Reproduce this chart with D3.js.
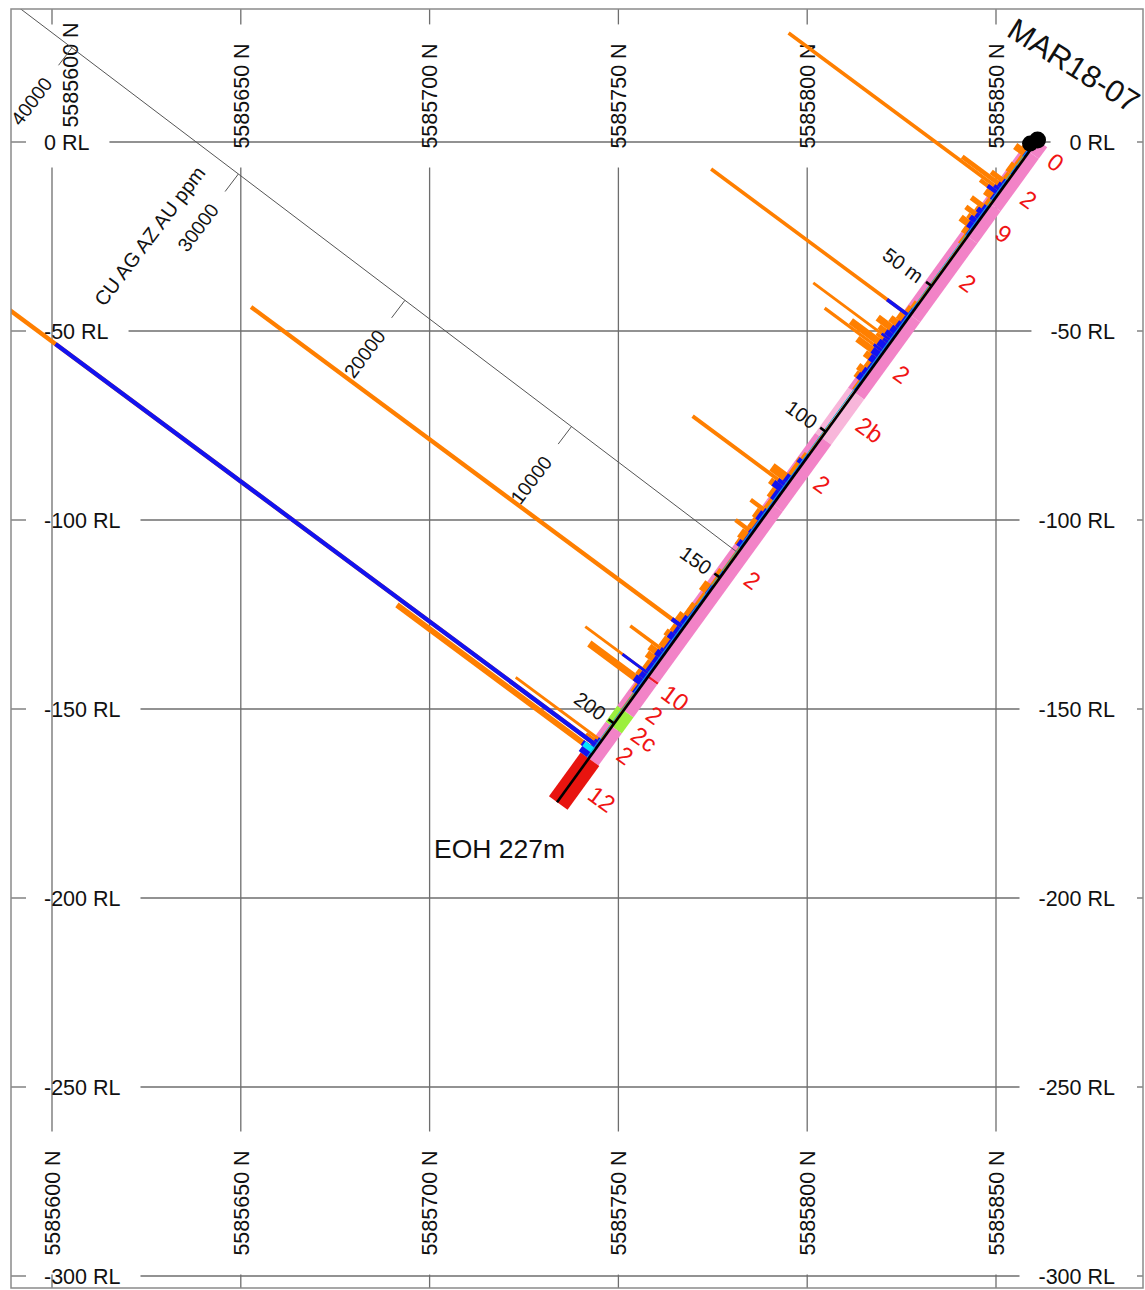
<!DOCTYPE html>
<html><head><meta charset="utf-8">
<script src="https://cdn.jsdelivr.net/npm/d3@7"></script>
<style>
html,body{margin:0;padding:0;background:#fff;}
svg{display:block;font-family:"Liberation Sans",Arial,sans-serif;}
</style></head><body>
<svg id="chart" width="1145" height="1290"></svg>
<script>
// ---- section grid ----
const northTicks = [5585600, 5585650, 5585700, 5585750, 5585800, 5585850];
const rlTicks = [0, -50, -100, -150, -200, -250, -300];

// ---- hole MAR18-07 ----
const holeId = "MAR18-07";
const collarNorth = 5585861.0;
const collarRL = 0.5;
const holeDip = -50.5;            // degrees
const azimuthToSection = 28.2;    // degrees off the section plane
const holeDepth = 227;

// downhole depth markers
const depthMarks = [50, 100, 150, 200];
const depthMarkLabels = ["50 m", "100", "150", "200"];

// ---- lithology log ----
const lithFrom  = [0, 4, 22, 33, 60, 86.5, 102, 125, 183.6, 184.3, 195.5, 201, 212];
const lithTo    = [4, 22, 33, 60, 86.5, 102, 125, 183.6, 184.3, 195.5, 201, 212, 227];
const lithCode  = ["0", "2", "9", "2", "2", "2b", "2", "2", "10", "2", "2c", "2", "12"];
const lithLabelAt = [2, 14.8, 26.5, 43.4, 74.7, 92.4, 112.4, 145.3, 184.3, 191.6, 198.6, 205.4, 219];
const lithColour = {"0": "#f283c7", "2": "#f283c7", "9": "#f283c7", "2b": "#f8b6da",
                    "10": "#ee1c2a", "2c": "#9cef3e", "12": "#e8140f"};

// ---- assays (ppm) ----
const sampleFrom = [2,4,6,9,12,14,15.5,16.8,17.8,19,21,23,24.5,26,27.5,29,31,33,36,46,
  56,58,59.9,60.9,63,65,67,68.5,69.3,70.2,72.2,73.1,75,77,79,81,83,86,97,108,
  110,111.5,115.5,118,119.1,121,124,127,128.2,131,134,135.2,138,140,148,150,153,156,160,164,
  166.6,167.8,170,172,175.1,176.1,178,180,182.8,183.6,185.3,187.3,190,196,205.6,206.4,207.2,208.4,208.7,210.3];
const sampleTo = [4,6,9,12,14,15.5,16.8,17.8,19,21,23,24.5,26,27.5,29,31,33,36,46,56,
  58,59.9,60.9,63,65,67,68.5,69.3,70.2,72.2,73.1,75,77,79,81,83,86,97,108,110,
  111.5,115.5,118,119.1,121,124,127,128.2,131,134,135.2,138,140,148,150,153,156,160,164,166.6,
  167.8,170,172,175.1,176.1,178,180,182.8,183.6,185.3,187.3,190,196,205.6,206.4,207.2,208.4,208.7,210.3,212];
const cuPpm = [450,700,250,400,300,900,2450,12650,1100,600,300,950,500,900,600,800,400,200,80,120,
  250,350,11830,500,700,1200,900,4670,800,2140,3520,1400,700,400,600,500,200,60,90,250,
  350,300,1100,5600,800,500,300,1000,500,400,1020,500,400,150,300,200,500,250,400,600,
  25770,500,600,500,2120,800,700,500,3840,600,3210,300,150,100,5110,800,41000,300,11745,500];
const agPpm = [0,150,0,100,0,200,300,400,650,200,0,250,400,300,450,350,150,0,0,0,
  100,150,1350,200,300,400,500,600,400,500,600,500,400,200,300,350,100,0,0,100,
  300,100,300,500,600,300,100,200,300,150,200,150,300,0,100,0,150,100,150,300,
  700,300,400,200,300,400,300,300,1625,400,500,200,50,0,200,300,32300,300,700,600];
const auPpm = [0,0,0,0,0,0,0,0,0,0,0,0,0,0,0,0,0,0,0,0,
  0,0,0,0,0,0,0,0,0,0,0,0,0,0,0,0,0,0,0,0,
  0,0,0,0,0,0,0,0,0,0,0,0,0,0,0,0,0,0,0,0,
  0,0,0,0,0,0,0,0,0,0,0,0,0,0,0,0,0,0,600,0];

// ---- histogram scale bar ----
const scaleTicks = [10000, 20000, 30000, 40000];
const scaleTitle = "CU AG AZ AU ppm";
const scaleDepth = 141.5;
const scaleTitleAt = 31600;

// ================= drawing =================
const svg = d3.select("#chart");
const frame = {x0: 11, y0: 9, x1: 1143, y1: 1288};

const x = d3.scaleLinear().domain([5585600, 5585850]).range([52, 996]);
const y = d3.scaleLinear().domain([0, -300]).range([142, 1276]);
const ppm = d3.scaleLinear().domain([0, 10000]).range([0, 209]);

const rad = Math.PI / 180;
const horiz = Math.cos(holeDip * rad) * Math.cos(azimuthToSection * rad);
const vert = Math.sin(holeDip * rad);
function trace(d) {
  return [x(collarNorth - d * horiz), y(collarRL + d * vert)];
}
const t0 = trace(0), t1 = trace(1);
const hLen = Math.hypot(t1[0] - t0[0], t1[1] - t0[1]);
const h = [(t1[0] - t0[0]) / hLen, (t1[1] - t0[1]) / hLen];   // down the hole
const u = [-h[1], h[0]];                                         // up-left, normal to hole
function rot(v, deg) {
  const c = Math.cos(deg * rad), s = Math.sin(deg * rad);
  return [v[0] * c - v[1] * s, v[0] * s + v[1] * c];
}
// histogram leaders lean slightly off the true normal, as the plotting package draws them
const barDir = rot(u, 0.6);
const scaleDir = rot(u, 1.2), scaleTickDir = rot(h, 1.2);

function pt(d, off) { const p = trace(d); return [p[0] + off * u[0], p[1] + off * u[1]]; }
function along(d, dir, len) { const p = trace(d); return [p[0] + len * dir[0], p[1] + len * dir[1]]; }
const angAcross = Math.atan2(-u[1], -u[0]) / rad;   // reading across the hole
const angAlongUp = Math.atan2(-scaleTickDir[1], -scaleTickDir[0]) / rad;  // reading up the hole

svg.append("rect").attr("width", 1145).attr("height", 1290).attr("fill", "#fff");
svg.append("defs").append("clipPath").attr("id", "frameClip")
  .append("rect").attr("x", frame.x0).attr("y", frame.y0)
  .attr("width", frame.x1 - frame.x0).attr("height", frame.y1 - frame.y0);

const gridG = svg.append("g").attr("stroke", "#6e6e6e").attr("stroke-width", 1.3);
const labelG = svg.append("g").attr("font-size", 21.5).attr("fill", "#111");

// RL labels, left and right
const leftX = 44, rightX = 1115;
const rlLeft = labelG.selectAll("text.rll").data(rlTicks).join("text").attr("class", "rll")
  .attr("x", leftX).attr("y", d => y(d)).attr("dy", "0.36em").text(d => `${d} RL`);
labelG.selectAll("text.rlr").data(rlTicks).join("text").attr("class", "rlr")
  .attr("x", rightX).attr("y", d => y(d)).attr("dy", "0.36em").attr("text-anchor", "end")
  .text(d => `${d} RL`);
const rlWidth = rlLeft.nodes().map(n => n.getComputedTextLength());

// northing labels, top and bottom
const topY = 96, bottomY = 1203;
const nLabel = d => `${d} N`;
const nTop = labelG.selectAll("text.nt").data(northTicks).join("text").attr("class", "nt")
  .attr("text-anchor", "middle").attr("dy", "0.36em")
  // first label is nudged clear of the 0 RL label
  .attr("transform", (d, i) => i === 0 ? `translate(${x(d) + 18},${topY - 21}) rotate(-90)`
                                      : `translate(${x(d)},${topY}) rotate(-90)`)
  .text(nLabel);
labelG.selectAll("text.nb").data(northTicks).join("text").attr("class", "nb")
  .attr("text-anchor", "middle").attr("dy", "0.36em")
  .attr("transform", d => `translate(${x(d)},${bottomY}) rotate(-90)`)
  .text(nLabel);
const nWidth = nTop.nodes().map(n => n.getComputedTextLength());

// grid lines broken around their own labels
const pad = 19;
rlTicks.forEach((r, i) => {
  const w = rlWidth[i];
  const segs = [[frame.x0, leftX - pad + 1], [leftX + w + pad + 1, rightX - w - pad],
                [rightX + 22, frame.x1]];
  segs.forEach(s => gridG.append("line").attr("x1", s[0]).attr("x2", s[1])
    .attr("y1", y(r)).attr("y2", y(r)));
});
northTicks.forEach((n, i) => {
  const w = nWidth[i];
  const segs = [[frame.y0, topY - w / 2 - pad], [topY + w / 2 + pad, bottomY - w / 2 - pad],
                [bottomY + w / 2 + pad, frame.y1]];
  segs.filter(s => s[1] > s[0]).forEach(s => gridG.append("line")
    .attr("x1", x(n)).attr("x2", x(n)).attr("y1", s[0]).attr("y2", s[1]));
});

// everything on the hole is clipped to the frame
const plot = svg.append("g").attr("clip-path", "url(#frameClip)");
const line = d3.line();

// lithology strip
const lith = lithFrom.map((f, i) => ({from: f, to: lithTo[i], code: lithCode[i], at: lithLabelAt[i]}));
plot.append("g").selectAll("path").data(lith).join("path")
  .attr("d", d => {
    const l = d.code === "12" ? 10 : 8, r = d.code === "12" ? -13 : -12;
    return line([pt(d.from, l), pt(d.to, l), pt(d.to, r), pt(d.from, r)]) + "Z";
  })
  .attr("fill", d => lithColour[d.code]);

// assay histograms
const samples = sampleFrom.map((f, i) => ({from: f, to: sampleTo[i], cu: cuPpm[i], ag: agPpm[i], au: auPpm[i]}));
function bar(d, v) {
  const L = ppm(v);
  return line([trace(d.from), trace(d.to), along(d.to, barDir, L), along(d.from, barDir, L)]) + "Z";
}
[["cu", "#ff7f00"], ["ag", "#1212f0"], ["au", "#00e6ff"]].forEach(([k, c]) => {
  plot.append("g").selectAll("path").data(samples.filter(s => s[k] > 0)).join("path")
    .attr("d", s => bar(s, s[k])).attr("fill", c);
});

// histogram scale bar
const sG = plot.append("g");
const axisStart = trace(scaleDepth), axisEnd = along(scaleDepth, scaleDir, ppm(60000));
sG.append("line").attr("x1", axisStart[0]).attr("y1", axisStart[1])
  .attr("x2", axisEnd[0]).attr("y2", axisEnd[1]).attr("stroke", "#555").attr("stroke-width", 1);
scaleTicks.forEach(t => {
  const a = along(scaleDepth, scaleDir, ppm(t));
  sG.append("line").attr("x1", a[0]).attr("y1", a[1])
    .attr("x2", a[0] + 22 * scaleTickDir[0]).attr("y2", a[1] + 22 * scaleTickDir[1])
    .attr("stroke", "#555").attr("stroke-width", 1);
  sG.append("text").attr("font-size", 19.5).attr("fill", "#111")
    .attr("text-anchor", "middle").attr("dy", "0.36em")
    .attr("transform", `translate(${a[0] + 67 * scaleTickDir[0]},${a[1] + 67 * scaleTickDir[1]}) rotate(${angAlongUp})`)
    .text(t);
});
{
  const a = along(scaleDepth, scaleDir, ppm(scaleTitleAt));
  sG.append("text").attr("font-size", 20).attr("fill", "#111")
    .attr("text-anchor", "middle").attr("dy", "0.36em")
    .attr("transform", `translate(${a[0] + 103 * scaleTickDir[0]},${a[1] + 103 * scaleTickDir[1]}) rotate(${angAlongUp})`)
    .text(scaleTitle);
}

// hole trace, histogram baseline and depth marks
const cyanBase = [pt(sampleFrom[0], 2.2), pt(sampleTo[sampleTo.length - 1], 2.2)];
plot.append("path").attr("d", line(cyanBase)).attr("stroke", "#13b6cf").attr("stroke-width", 1).attr("fill", "none");
plot.append("path").attr("d", line([trace(0), trace(holeDepth)]))
  .attr("stroke", "#000").attr("stroke-width", 2.6).attr("fill", "none");
depthMarks.forEach((d, i) => {
  const a = pt(d, 0), b = pt(d, 7);
  plot.append("line").attr("x1", a[0]).attr("y1", a[1]).attr("x2", b[0]).attr("y2", b[1])
    .attr("stroke", "#000").attr("stroke-width", 2.6);
  const c = pt(d, 13);
  plot.append("text").attr("font-size", 20).attr("fill", "#111")
    .attr("text-anchor", "end").attr("dy", "0.36em")
    .attr("transform", `translate(${c[0]},${c[1]}) rotate(${angAcross})`)
    .text(depthMarkLabels[i]);
});

// lithology codes
plot.append("g").selectAll("text").data(lith).join("text")
  .attr("font-size", 24).attr("fill", "#f01414").attr("dy", "0.36em")
  .attr("transform", d => { const c = pt(d.at, -21); return `translate(${c[0]},${c[1]}) rotate(${angAcross})`; })
  .text(d => d.code);

// collar marker
[[0, 0, 8.5], [2, 4, 8]].forEach(([d, off, r]) => {
  const c = pt(d, off);
  plot.append("circle").attr("cx", c[0]).attr("cy", c[1]).attr("r", r).attr("fill", "#000");
});

// hole name and end-of-hole note
const collarPt = trace(0);
plot.append("text").attr("font-size", 31).attr("fill", "#111")
  .attr("text-anchor", "middle").attr("dy", "0.36em")
  .attr("transform", `translate(${collarPt[0] + 36.5},${collarPt[1] - 75}) rotate(32)`)
  .text(holeId);
const eoh = trace(holeDepth);
plot.append("text").attr("font-size", 26.5).attr("fill", "#111")
  .attr("x", eoh[0] - 123).attr("y", eoh[1] + 56)
  .text(`EOH ${holeDepth}m`);

// frame
svg.append("rect").attr("x", frame.x0).attr("y", frame.y0)
  .attr("width", frame.x1 - frame.x0).attr("height", frame.y1 - frame.y0)
  .attr("fill", "none").attr("stroke", "#8a8a8a").attr("stroke-width", 1.5);
</script>
</body></html>
